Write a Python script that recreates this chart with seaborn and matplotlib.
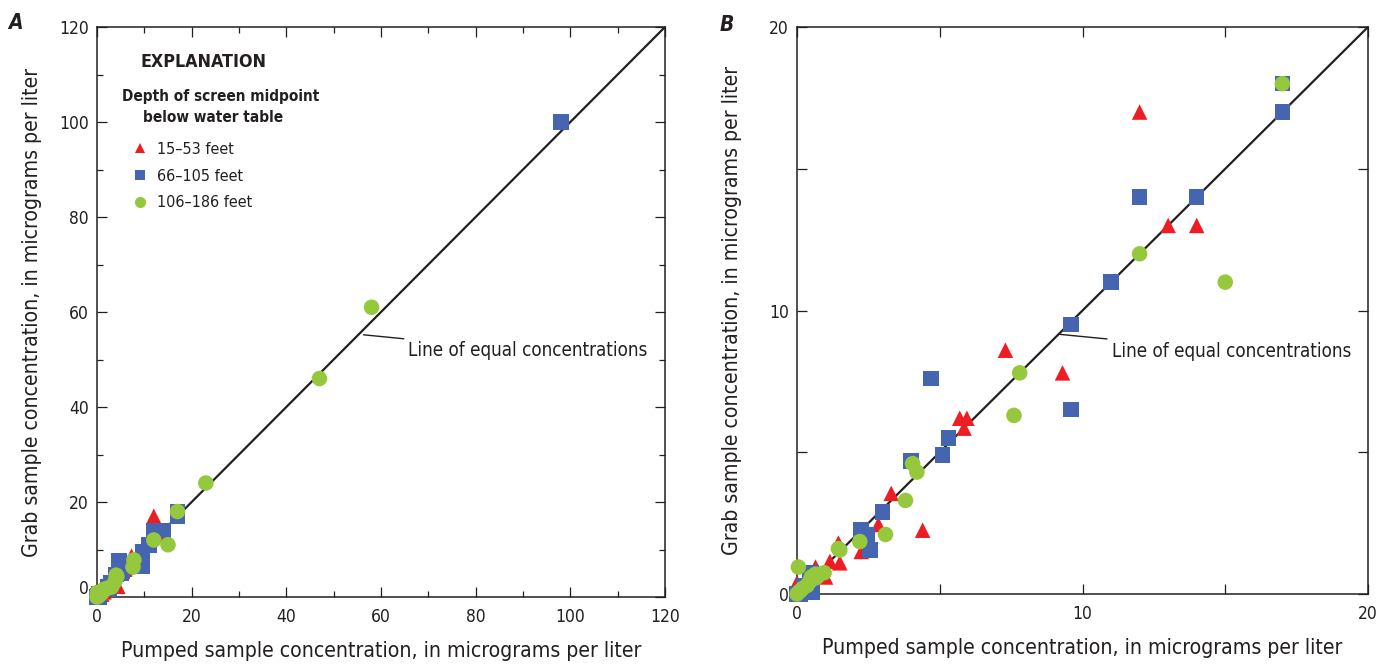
import matplotlib
matplotlib.use("Agg")
import matplotlib.pyplot as plt
import matplotlib.transforms as mtransforms
from matplotlib import font_manager
from matplotlib.lines import Line2D
from matplotlib.ticker import MultipleLocator
import numpy as np
import pandas as pd
import seaborn as sns

# ---------------- data ----------------
labels = ["15\u201353 feet", "66\u2013105 feet", "106\u2013186 feet"]

tri_x = [12.0, 13.0, 14.0, 7.3, 9.3, 5.7, 5.95, 5.85, 3.3, 2.85, 4.4, 2.25,
         1.45, 1.15, 1.5, 0.65, 1.0, 0.0, 0.3, 0.6]
tri_y = [17.0, 13.0, 13.0, 8.6, 7.8, 6.2, 6.2, 5.85, 3.55, 2.45, 2.25, 1.5,
         1.8, 1.15, 1.1, 0.95, 0.6, 0.4, 0.35, 0.8]

sq_x = [17.0, 17.0, 14.0, 12.0, 11.0, 9.6, 9.6, 4.7, 5.3, 5.1, 4.0, 3.0,
        2.25, 2.45, 2.55, 0.5, 0.45, 0.55, 0.1, 0.0, 0.25]
sq_y = [18.0, 17.0, 14.0, 14.0, 11.0, 9.5, 6.5, 7.6, 5.5, 4.9, 4.7, 2.9,
        2.25, 2.1, 1.55, 0.75, 0.7, 0.05, 0.0, 0.0, 0.3]

circ_x = [17.0, 12.0, 15.0, 7.8, 7.6, 4.05, 4.2, 3.8, 3.1, 2.2, 1.5, 1.45,
          0.05, 0.95, 0.65, 0.6, 0.45, 0.35, 0.2, 0.1, 0.0, 0.5, 0.7]
circ_y = [18.0, 12.0, 11.0, 7.8, 6.3, 4.6, 4.3, 3.3, 2.1, 1.85, 1.55, 1.6,
          0.95, 0.75, 0.7, 0.55, 0.45, 0.3, 0.2, 0.1, 0.0, 0.6, 0.6]

# additional (large) values shown only in panel A
sq_x_A_extra = [98.0]
sq_y_A_extra = [100.0]
circ_x_A_extra = [23.0, 47.0, 58.0]
circ_y_A_extra = [24.0, 46.0, 61.0]

equal_line_A = [0, 120]
equal_line_B = [0, 20]

xticks_A = [0, 20, 40, 60, 80, 100, 120]
ticks_B = [0, 5, 10, 15, 20]
tick_labels_B = ["0", "", "10", "", "20"]

colors = {labels[0]: "#EE1D23", labels[1]: "#4565B0", labels[2]: "#95C83D"}
markers = {labels[0]: "^", labels[1]: "s", labels[2]: "o"}
INK = "#231F20"


def make_df(tx, ty, sx, sy, cx, cy):
    return pd.DataFrame({
        "pumped": tx + sx + cx,
        "grab": ty + sy + cy,
        "depth": [labels[0]] * len(tx) + [labels[1]] * len(sx) + [labels[2]] * len(cx),
    })


df_B = make_df(tri_x, tri_y, sq_x, sq_y, circ_x, circ_y)
df_A = make_df(tri_x, tri_y, sq_x + sq_x_A_extra, sq_y + sq_y_A_extra,
               circ_x + circ_x_A_extra, circ_y + circ_y_A_extra)

# ---------------- style ----------------
sns.set_style("ticks")
plt.rcParams["font.family"] = ["DejaVu Sans"]
plt.rcParams["font.stretch"] = "condensed"
plt.rcParams["text.color"] = INK
plt.rcParams["axes.labelcolor"] = INK
plt.rcParams["xtick.color"] = INK
plt.rcParams["ytick.color"] = INK

fig = plt.figure(figsize=(13.9, 6.66), dpi=100)
W, H = 1390, 666


def add_axes_px(left, right, top, bottom):
    return fig.add_axes([left / W, (H - bottom) / H, (right - left) / W, (bottom - top) / H])


axA = add_axes_px(97, 665, 27, 597)
axB = add_axes_px(797, 1368, 27, 594)

for ax, df, line, lim in [(axA, df_A, equal_line_A, (0, 120)), (axB, df_B, equal_line_B, (0, 20))]:
    ax.plot(line, line, color=INK, lw=1.6, zorder=2, solid_capstyle="butt")
    sns.scatterplot(data=df, x="pumped", y="grab", hue="depth", style="depth",
                    hue_order=labels, style_order=labels, palette=colors, markers=markers,
                    s=125, linewidth=0, ax=ax, legend=False, zorder=3)
    for coll in ax.collections:
        coll.set_clip_on(False)
    ax.set_xlim(*lim)
    ax.set_ylim(*lim)
    for sp in ax.spines.values():
        sp.set_linewidth(1.1)
        sp.set_color(INK)
        sp.set_visible(True)
    ax.tick_params(which="both", direction="in", top=True, right=True,
                   labelsize=12.5, width=0.9, color=INK)
    ax.tick_params(axis="x", which="both", pad=8)
    ax.tick_params(axis="y", which="both", pad=6)
    ax.set_xlabel("Pumped sample concentration, in micrograms per liter", fontsize=15.2)
    ax.set_ylabel("Grab sample concentration, in micrograms per liter", fontsize=15.2)

# Panel A ticks
axA.set_xticks(xticks_A)
axA.set_yticks(xticks_A)
axA.xaxis.set_minor_locator(MultipleLocator(10))
axA.yaxis.set_minor_locator(MultipleLocator(10))
axA.tick_params(which="major", length=7.5)
axA.tick_params(which="minor", length=4)

# Panel B ticks
axB.set_xticks(ticks_B)
axB.set_yticks(ticks_B)
axB.set_xticklabels(tick_labels_B)
axB.set_yticklabels(tick_labels_B)
axB.tick_params(which="major", length=7.5)

# label positions
for ax, wpx, hpx in [(axA, 568, 570), (axB, 571, 567)]:
    ax.yaxis.set_label_coords(-65 / wpx, 0.5)
    ax.xaxis.set_label_coords(0.5, -54 / hpx)
    ax.xaxis.label.set_va("center")
    ax.yaxis.label.set_va("center")

# nudge the "0" on A's y axis upward like in the original
ytA = axA.yaxis.get_major_ticks()
lab0 = ytA[0].label1
lab0.set_transform(lab0.get_transform() + mtransforms.ScaledTranslation(0, 10 / 100, fig.dpi_scale_trans))

# panel letters
fig.text(15 / W, (H - 23) / H, "A", fontsize=15, fontweight="bold", fontstyle="italic",
         ha="center", va="center")
fig.text(727 / W, (H - 25) / H, "B", fontsize=15, fontweight="bold", fontstyle="italic",
         ha="center", va="center")

# annotation for the 1:1 line
axA.annotate("Line of equal concentrations", xy=(56.3, 55.2), xytext=(65.8, 51.8),
             ha="left", va="center", fontsize=13.5,
             arrowprops=dict(arrowstyle="-", color=INK, lw=1.0, shrinkA=1, shrinkB=0))
axB.annotate("Line of equal concentrations", xy=(9.19, 9.16), xytext=(11.02, 8.57),
             ha="left", va="center", fontsize=13.5,
             arrowprops=dict(arrowstyle="-", color=INK, lw=1.0, shrinkA=1, shrinkB=0))

# explanation (legend) in panel A
def ax_coords(px, py):
    return ((px - 97) / 568, (597 - py) / 570)

axA.text(*ax_coords(204, 62), "EXPLANATION", transform=axA.transAxes, fontsize=12.8,
         fontweight="bold", ha="center", va="center")
axA.text(*ax_coords(221, 97), "Depth of screen midpoint", transform=axA.transAxes,
         fontsize=11, fontweight="bold", ha="center", va="center")
axA.text(*ax_coords(213, 118), "below water table", transform=axA.transAxes,
         fontsize=11, fontweight="bold", ha="center", va="center")

msizes = {labels[0]: 6.5, labels[1]: 7.5, labels[2]: 8.0}
handles = [Line2D([], [], linestyle="none", marker=markers[l], markersize=msizes[l],
                  markerfacecolor=colors[l], markeredgewidth=0) for l in labels]
leg = axA.legend(handles, labels, loc="center left", bbox_to_anchor=ax_coords(130, 176),
                 frameon=False, handlelength=1.2, handletextpad=0.5, labelspacing=0.75,
                 borderpad=0, borderaxespad=0, fontsize=11.5)
for t in leg.get_texts():
    t.set_color(INK)

fig.savefig("out.png", dpi=100)
